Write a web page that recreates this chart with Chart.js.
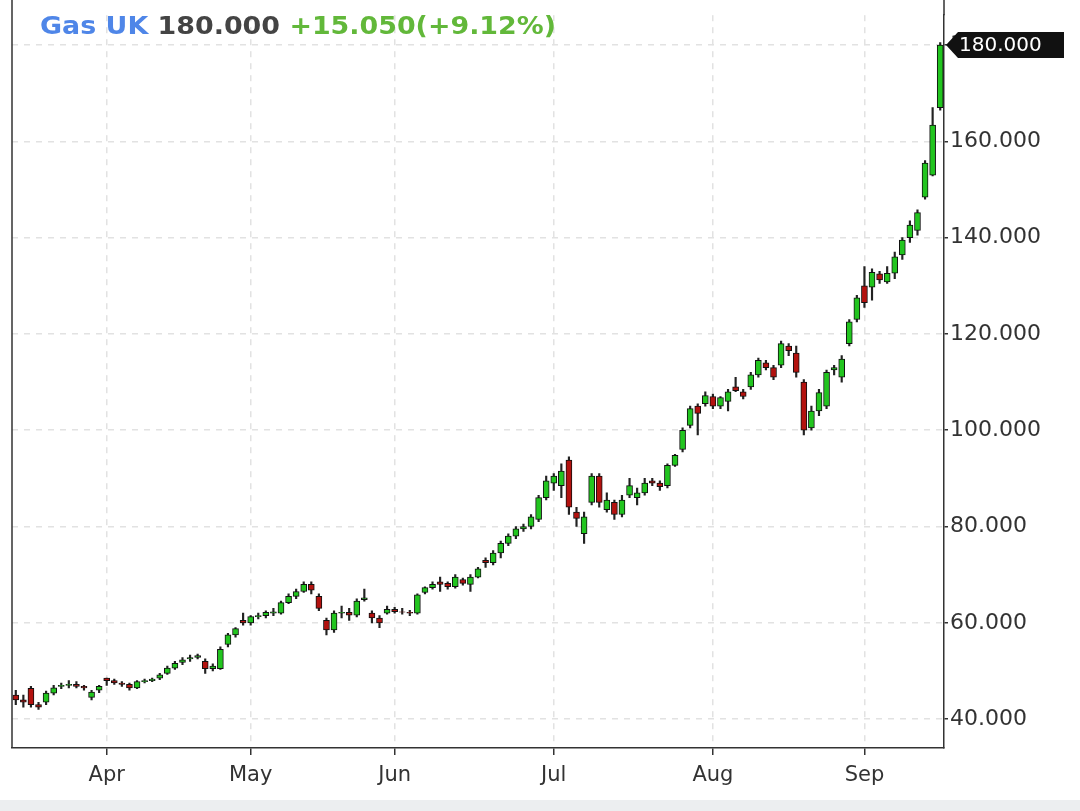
<!DOCTYPE html>
<html>
<head>
<meta charset="utf-8">
<script src="https://cdn.jsdelivr.net/npm/chart.js@4.4.0/dist/chart.umd.min.js"></script>
<style>
  body { margin: 0; background: #fff; font-family: "DejaVu Sans", sans-serif; }
  #wrap { position: relative; width: 1080px; height: 811px; }
  #title { position: absolute; left: 40px; top: 12px; font-size: 24px; font-weight: bold; transform: scaleX(1.12); transform-origin: left top; }
  #strip { position: absolute; left: 0; top: 800px; width: 1080px; height: 11px; background: #eceef0; }
</style>
</head>
<body>
<div id="wrap">
  <canvas id="chart" width="1080" height="811"></canvas>
  <div id="title"><span style="color:#4f86e8">Gas UK</span> <span style="color:#444">180.000</span> <span style="color:#62b83a">+15.050(+9.12%)</span></div>
  <div id="strip"></div>
</div>
<script>
// daily candles: open, high, low, close
const opens  = [45,44,46.4,43,43.5,45.4,46.8,47,47.2,46.8,44.5,46, 48.5,48,47.5,47.2,46.5,47.8,48,48.5,49.5,50.6,51.8,52.5,52.8,52,50.5,50.5,55.5,57.5,60.5,
  60,61.3,61.5,62,62,64.2,65.5,66.5,68,65.5,60.5,58.5,62,62.2,61.6,64.8,62,61,
  62,62.8,62.3,62.2,62,66.3,67.3,68.5,68.2,67.5,69,68,69.5,73,72.5,74.5,76.5,78,79.5,80,81.5,
  86,89,88.5,93.8,83,78.5,85,90.5,83.5,85,82.5,86.5,86,87,89.5,89,88.5,92.7,96,101,105,
  105.5,107,105,106,109,108,109,111.5,114,113,113.5,117.5,116,110,100.5,104,105,112.5,111,118,
  123,130,129.7,132.5,130.8,132.6,136.4,140,141.5,148.4,153,167];
const highs  = [46,45,46.8,43.5,45.8,47,47.5,48,47.8,47,46,47, 48.5,48.3,47.8,47.5,48,48.3,48.5,49.5,51,52,52.8,53.3,53.5,52.5,51.5,55,57.8,59,62,
  61.5,62,62.5,63,64.5,66,67,68.5,68.5,66,61,62.5,63.5,63,65,67,62.5,61.5,
  63.5,63.2,63,62.6,66,67.5,68.5,69.5,68.5,70,69.3,70,71.5,73.5,75,77,78.5,80,80.5,82.5,86.5,
  90.5,91,93,94.5,84,83,91,91,87,85.5,86.5,90,88,90,90,89.5,93,95,100.5,105,105.5,
  108,107.5,107,108.5,111,108.5,112,115,114.5,113.5,118.5,118,117.5,110.5,105,108.5,112.5,113.5,115.5,123,
  128,134,133.5,133,134,137,140,143.5,145.8,156,167,180.5];
const lows   = [43,42.5,42.5,42,43,45,46.3,46.5,46.5,46,44,45.5, 47,47.2,46.8,46,46.3,47.5,47.8,48.2,49.3,50.3,51.3,52,52.5,49.5,50,50.3,55,57,59.5,
  59.5,60.8,61,61.5,61.8,64,65,66.3,66,62.5,57.5,58,61,60.5,61.2,64.5,60,59,
  61.8,62,61.8,61.5,61.8,66,67,66.5,67,67.2,67.8,66.5,69.3,71.5,72,73.5,76,77.5,79,79.5,81,
  85.5,87.5,86,82.5,80,76.5,84.5,84,83,81.5,82,86,84.5,86.5,88.5,87.5,88,92.5,95.5,100.5,99,
  105,104.5,104.5,104,108,106.5,108.5,111,112.5,110.5,113,115.5,111,99,100,103,104.5,111.5,110,117.5,
  122.5,125.5,127,130.5,130.5,131.5,135.5,139,140.5,148,152.8,166.5];
const closes = [44,43.5,43,42.5,45.4,46.5,47,47.2,46.8,46.5,45.6,46.8, 48,47.5,47.2,46.5,47.8,48,48.3,49.2,50.6,51.6,52.3,52.8,53.2,50.5,51,54.5,57.5,58.8,60,
  61.3,61.5,62.2,62.3,64.2,65.5,66.5,68,66.8,63,58.5,62,62.2,61.6,64.5,65.2,61,60,
  62.8,62.3,62.2,62,65.8,67.3,68,68,67.5,69.5,68.2,69.5,71.2,72.5,74.5,76.5,78,79.5,80,82,86,
  89.5,90.5,91.5,84,81.7,82,90.5,85,85.5,82.5,85.5,88.5,87,89,89,88.3,92.7,94.8,100,104.5,103.5,
  107.2,105,106.8,108,108.2,107,111.5,114.5,113,111,118,116.5,112,100,104,107.8,112,113,114.8,122.5,
  127.5,126.5,132.8,131.2,132.6,136,139.5,142.6,145.2,155.5,163.4,180];
const monthStarts = [[12, "Apr"], [31, "May"], [50, "Jun"], [71, "Jul"], [92, "Aug"], [112, "Sep"]];
const yTicks = [40, 60, 80, 100, 120, 140, 160, 180];
const lastPrice = 180;

const labels = closes.map((c, i) => i);
const monthMap = new Map(monthStarts);
const colors = closes.map((c, i) => c >= opens[i] ? "#22c51f" : "#b3120f");

const badge = {
  id: "badge",
  afterDraw(chart) {
    const { ctx, chartArea } = chart;
    const y = chart.scales.y.getPixelForValue(lastPrice);
    const x = chartArea.right + 2;
    ctx.save();
    // plot frame up to the top edge
    ctx.strokeStyle = "#333";
    ctx.lineWidth = 1.5;
    ctx.beginPath();
    ctx.moveTo(chartArea.left, 0);
    ctx.lineTo(chartArea.left, chartArea.bottom);
    ctx.moveTo(chartArea.right, 0);
    ctx.lineTo(chartArea.right, chartArea.top);
    ctx.stroke();
    ctx.fillStyle = "#111";
    ctx.beginPath();
    ctx.moveTo(x, y);
    ctx.lineTo(x + 12, y - 13);
    ctx.lineTo(x + 118, y - 13);
    ctx.lineTo(x + 118, y + 13);
    ctx.lineTo(x + 12, y + 13);
    ctx.closePath();
    ctx.fill();
    ctx.fillStyle = "#fff";
    ctx.font = "20px 'DejaVu Sans'";
    ctx.textBaseline = "middle";
    ctx.fillText(lastPrice.toFixed(3), x + 13, y + 1, 104);
    ctx.restore();
  }
};

new Chart(document.getElementById("chart"), {
  type: "bar",
  data: {
    labels: labels,
    datasets: [
      {
        label: "body",
        data: closes.map((c, i) => [opens[i], c]),
        backgroundColor: colors,
        borderColor: "#111",
        borderWidth: 1,
        borderSkipped: false,
        barThickness: 6,
        grouped: false,
        order: 0
      },
      {
        label: "wick",
        data: closes.map((c, i) => [lows[i], highs[i]]),
        backgroundColor: "#222",
        barThickness: 1.5,
        grouped: false,
        order: 1
      }
    ]
  },
  options: {
    responsive: false,
    animation: false,
    layout: { padding: { left: 12, top: 0, right: 0, bottom: 0 } },
    plugins: { legend: { display: false }, tooltip: { enabled: false } },
    scales: {
      x: {
        grid: {
          color: ctx => monthMap.has(ctx.index) ? "#e2e2e2" : "transparent",
          tickColor: ctx => monthMap.has(ctx.index) ? "#333" : "transparent",
          tickLength: 7,
          lineWidth: 1.5,
          offset: false
        },
        border: { color: "#333", width: 1.5, dash: [6, 6] },
        ticks: {
          autoSkip: false,
          maxRotation: 0,
          color: "#333",
          font: { size: 21, family: "DejaVu Sans" },
          padding: 8,
          callback: (v, i) => monthMap.get(i) || ""
        },
        afterFit: axis => { axis.height = 63; }
      },
      y: {
        position: "right",
        min: 34,
        max: 186.2,
        afterBuildTicks: axis => { axis.ticks = yTicks.map(v => ({ value: v })); },
        grid: { color: "#e2e2e2", lineWidth: 1.5, tickColor: "#333", tickLength: 4 },
        border: { color: "#333", width: 1.5, dash: [6, 6] },
        ticks: {
          color: "#333",
          font: { size: 22, family: "DejaVu Sans" },
          padding: 2,
          callback: v => v.toFixed(3)
        },
        afterFit: axis => { axis.width = 136; }
      }
    }
  },
  plugins: [badge]
});
</script>
</body>
</html>
